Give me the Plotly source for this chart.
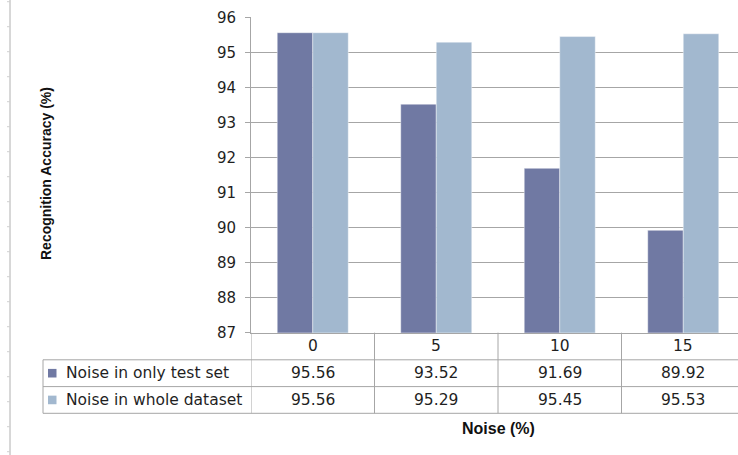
import plotly.graph_objects as go

categories = ["0", "5", "10", "15"]
series_names = ["Noise in only test set", "Noise in whole dataset"]
test_only = [95.56, 93.52, 91.69, 89.92]
whole_dataset = [95.56, 95.29, 95.45, 95.53]
y_ticks = [87, 88, 89, 90, 91, 92, 93, 94, 95, 96]
colors = ["#7079A3", "#A2B8CF"]
series_values = [test_only, whole_dataset]

W, H = 738, 455
def px(x):
    return x / W
def py(y):
    return 1 - y / H

FONT = "DejaVu Sans"
TXT = "#1f1f1f"
GRID = "#A6A6A6"

xs = list(range(len(categories)))
fig = go.Figure()
for name, vals, col in zip(series_names, series_values, colors):
    fig.add_trace(go.Bar(
        x=xs, y=vals, name=name, marker=dict(color=col, line=dict(color="rgba(255,255,255,0.7)", width=0.6)),
        showlegend=False,
    ))

x_left = 251
cat_w = 123.5
x_range = [-0.5, -0.5 + (W - x_left) / cat_w]

y_top, y_bot = 17.3, 332.7
row_lines = [359.8, 386.6, 413.3]

fig.update_layout(
    template="none",
    width=W, height=H, margin=dict(l=0, r=0, t=0, b=0, pad=0), autosize=False,
    paper_bgcolor="white", plot_bgcolor="white",
    barmode="group", bargap=0.425, bargroupgap=0,
    font=dict(family=FONT, size=15, color=TXT),
    xaxis=dict(domain=[px(x_left), 1], range=x_range, showticklabels=False, showgrid=False,
               zeroline=False, showline=True, linecolor=GRID, linewidth=1, ticks="", automargin=False),
    yaxis=dict(domain=[py(y_bot), py(y_top)], range=[87, 96], tickvals=y_ticks,
               ticktext=[str(v) for v in y_ticks], showgrid=True, gridcolor=GRID, gridwidth=1,
               showline=True, linecolor=GRID, linewidth=1, ticks="outside", ticklen=5,
               tickcolor=GRID, zeroline=False, tickfont=dict(family=FONT, size=15, color=TXT),
               ticklabelstandoff=6, automargin=False),
)

shapes = []
line = dict(color=GRID, width=1)
# vertical table lines (category boundaries)
for i in range(len(categories)):
    shapes.append(dict(type="line", xref="x", yref="paper", x0=i - 0.5, x1=i - 0.5,
                       y0=py(y_bot), y1=py(row_lines[-1]), line=line))
# horizontal table lines
for yl in row_lines:
    shapes.append(dict(type="line", xref="paper", yref="paper", x0=px(43), x1=1,
                       y0=py(yl), y1=py(yl), line=line))
shapes.append(dict(type="line", xref="paper", yref="paper", x0=px(43), x1=px(43),
                   y0=py(row_lines[0]), y1=py(row_lines[-1]), line=line))
# legend swatches
for r, col in enumerate(colors):
    yc = (row_lines[r] + row_lines[r + 1]) / 2
    shapes.append(dict(type="rect", xref="paper", yref="paper", x0=px(48), x1=px(56.5),
                       y0=py(yc + 4.3), y1=py(yc - 4.3), fillcolor=col, line=dict(width=0)))
# page decoration line at left
shapes.append(dict(type="line", xref="paper", yref="paper", x0=px(10), x1=px(10), y0=0, y1=1,
                   line=dict(color="#B0B0B0", width=1)))
for k in range(19):
    yk = 1.7 + 25 * k
    shapes.append(dict(type="line", xref="paper", yref="paper", x0=px(7), x1=px(10),
                       y0=py(yk), y1=py(yk), line=dict(color="#D0D0D0", width=1)))
fig.update_layout(shapes=shapes)

ann = []
hdr_c = (y_bot + row_lines[0]) / 2
for i, c in enumerate(categories):
    ann.append(dict(x=i, y=py(hdr_c), xref="x", yref="paper", text=c, showarrow=False,
                    font=dict(family=FONT, size=15.5, color=TXT), xanchor="center", yanchor="middle"))
for r, (name, vals) in enumerate(zip(series_names, series_values)):
    yc = (row_lines[r] + row_lines[r + 1]) / 2
    ann.append(dict(x=px(64), y=py(yc), xref="paper", yref="paper", text=name, showarrow=False,
                    font=dict(family=FONT, size=15.5, color=TXT), xanchor="left", yanchor="middle"))
    for i, v in enumerate(vals):
        ann.append(dict(x=i, y=py(yc), xref="x", yref="paper", text=f"{v:.2f}", showarrow=False,
                        font=dict(family=FONT, size=15.5, color=TXT), xanchor="center", yanchor="middle"))
ann.append(dict(x=px(499), y=py(428), xref="paper", yref="paper", text="<b>Noise (%)</b>",
                showarrow=False, font=dict(family="Liberation Sans", size=16, color="#111"),
                xanchor="center", yanchor="middle"))
ann.append(dict(x=px(46), y=py(174), xref="paper", yref="paper", text="<b>Recognition Accuracy (%)</b>",
                showarrow=False, textangle=-90, font=dict(family="Liberation Sans", size=14, color="#111"),
                xanchor="center", yanchor="middle"))
fig.update_layout(annotations=ann)

fig.write_html("out.html", config={"displayModeBar": False},
               post_script="document.body.style.margin='0px';")
